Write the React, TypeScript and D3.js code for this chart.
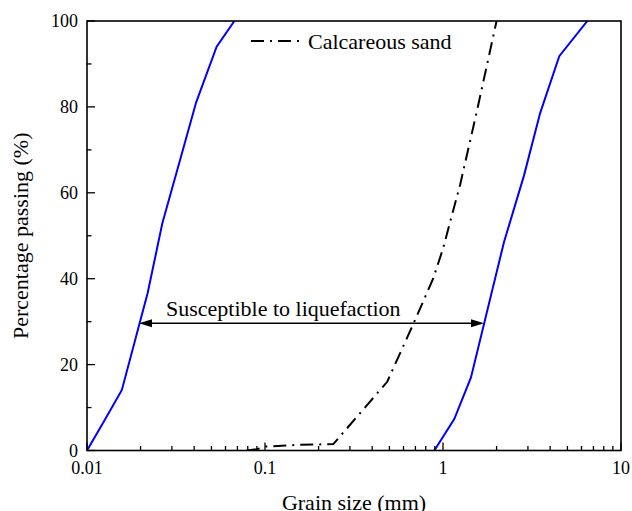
import React from "react";
import * as d3 from "d3";

const W = 632;
const H = 511;
const margin = { left: 87, right: 11, top: 21, bottom: 60.5 };

// Lower bound of liquefaction-susceptible range (grain size mm, % passing)
const lowerSize = [0.01, 0.0123, 0.0157, 0.0219, 0.0265, 0.033, 0.041, 0.0535, 0.0673];
const lowerPass = [0, 6.4, 14.1, 36.6, 52.9, 67, 81, 94, 100];

// Upper bound of liquefaction-susceptible range
const upperSize = [0.894, 1.157, 1.436, 2.2, 2.85, 3.51, 4.5, 6.47];
const upperPass = [0, 7.3, 17.0, 48.5, 64, 78.5, 91.8, 100];

// Calcareous sand gradation
const sandSize = [0.079, 0.09, 0.1, 0.15, 0.242, 0.486, 0.697, 0.88, 1.0, 1.25, 1.55, 2.0];
const sandPass = [0, 0.3, 0.9, 1.3, 1.5, 16.0, 30.4, 40, 47, 62, 79, 100];

const xTicks = [0.01, 0.1, 1, 10];
const xTickLabels = ["0.01", "0.1", "1", "10"];
const yTicks = [0, 20, 40, 60, 80, 100];
const yMinor = [10, 30, 50, 70, 90];

const arrowPass = 29.6;
const arrowFrom = 0.0196;
const arrowTo = 1.7;

export default function App() {
  const iw = W - margin.left - margin.right;
  const ih = H - margin.top - margin.bottom;
  const x = d3.scaleLog().domain([0.01, 10]).range([margin.left, margin.left + iw]);
  const y = d3.scaleLinear().domain([0, 100]).range([margin.top + ih, margin.top]);

  const line = d3
    .line<[number, number]>()
    .x((d) => x(d[0]))
    .y((d) => y(d[1]));

  const lower = lowerSize.map((s, i) => [s, lowerPass[i]] as [number, number]);
  const upper = upperSize.map((s, i) => [s, upperPass[i]] as [number, number]);
  const sand = sandSize.map((s, i) => [s, sandPass[i]] as [number, number]);

  const minorX: number[] = [];
  for (const dec of [0.01, 0.1, 1]) {
    for (let k = 2; k <= 9; k++) minorX.push(dec * k);
  }

  const fontStyle = { fontFamily: "Liberation Serif, DejaVu Serif, serif" };
  const bottom = margin.top + ih;
  const ay = y(arrowPass);
  const ax1 = x(arrowFrom);
  const ax2 = x(arrowTo);
  const dash = "13 6 2 6";

  return (
    <svg
      width={W}
      height={H}
      style={{ position: "absolute", left: 0, top: 0, background: "#fff", ...fontStyle }}
    >
      <defs>
        <clipPath id="plot">
          <rect x={margin.left} y={margin.top} width={iw} height={ih} />
        </clipPath>
      </defs>

      {/* curves */}
      <g clipPath="url(#plot)" fill="none">
        <path d={line(lower) || ""} stroke="#0000ff" strokeWidth={2} />
        <path d={line(upper) || ""} stroke="#0000ff" strokeWidth={2} />
        <path d={line(sand) || ""} stroke="#000" strokeWidth={2} strokeDasharray={dash} />
      </g>

      {/* arrow */}
      <line x1={ax1 + 12} x2={ax2 - 12} y1={ay} y2={ay} stroke="#000" strokeWidth={1.5} />
      <path d={`M${ax1},${ay} L${ax1 + 13},${ay - 4} L${ax1 + 13},${ay + 4} Z`} fill="#000" />
      <path d={`M${ax2},${ay} L${ax2 - 13},${ay - 4} L${ax2 - 13},${ay + 4} Z`} fill="#000" />
      <text x={166} y={ay - 7} fontSize={22} fill="#000" style={fontStyle}>
        Susceptible to liquefaction
      </text>

      {/* legend */}
      <line x1={251} x2={300} y1={41} y2={41} stroke="#000" strokeWidth={2} strokeDasharray={dash} />
      <text x={308} y={49} fontSize={22} fill="#000" style={fontStyle}>
        Calcareous sand
      </text>

      {/* ticks */}
      <g stroke="#000" strokeWidth={1.3}>
        {xTicks.map((t) => (
          <line key={"xm" + t} x1={x(t)} x2={x(t)} y1={bottom} y2={bottom - 8} />
        ))}
        {minorX.map((t) => (
          <line key={"xn" + t} x1={x(t)} x2={x(t)} y1={bottom} y2={bottom - 4.5} />
        ))}
        {yTicks.map((t) => (
          <line key={"ym" + t} x1={margin.left} x2={margin.left + 8} y1={y(t)} y2={y(t)} />
        ))}
        {yMinor.map((t) => (
          <line key={"yn" + t} x1={margin.left} x2={margin.left + 4.5} y1={y(t)} y2={y(t)} />
        ))}
      </g>

      {/* frame */}
      <rect
        x={margin.left}
        y={margin.top}
        width={iw}
        height={ih}
        fill="none"
        stroke="#000"
        strokeWidth={1.6}
      />

      {/* tick labels */}
      {xTicks.map((t, i) => (
        <text key={"xl" + t} x={x(t)} y={474} fontSize={18} textAnchor="middle" fill="#000" style={fontStyle}>
          {xTickLabels[i]}
        </text>
      ))}
      {yTicks.map((t) => (
        <text
          key={"yl" + t}
          x={margin.left - 9}
          y={y(t)}
          dy="0.35em"
          fontSize={18}
          textAnchor="end"
          fill="#000"
          style={fontStyle}
        >
          {t}
        </text>
      ))}

      {/* axis titles */}
      <text x={354} y={510} fontSize={22} textAnchor="middle" fill="#000" style={fontStyle}>
        Grain size (mm)
      </text>
      <text
        transform={`translate(28, ${margin.top + ih / 2}) rotate(-90)`}
        fontSize={22}
        textAnchor="middle"
        fill="#000"
        style={fontStyle}
      >
        Percentage passing (%)
      </text>
    </svg>
  );
}
